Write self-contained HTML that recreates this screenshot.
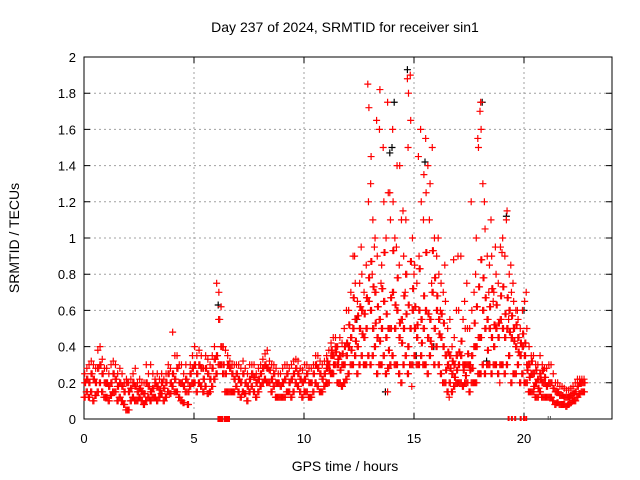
<!DOCTYPE html>
<html><head><meta charset="utf-8"><style>
body{margin:0;background:#fff;}
svg{display:block;font-family:"Liberation Sans",sans-serif;}
</style></head><body>
<svg id="chart" width="640" height="480">
<text x="345" y="32" text-anchor="middle" font-size="14">Day 237 of 2024, SRMTID for receiver sin1</text>
<text x="0" y="0" transform="translate(19,238) rotate(-90)" text-anchor="middle" font-size="14">SRMTID / TECUs</text>
<text x="345" y="471" text-anchor="middle" font-size="14">GPS time / hours</text>
<g id="grid"></g><g id="axes"></g><g id="marks"></g>
</svg>
<script>
const xTicks=[0,5,10,15,20];
const yTicks=[0,0.2,0.4,0.6,0.8,1,1.2,1.4,1.6,1.8,2];
const yTickLabels=["0","0.2","0.4","0.6","0.8","1","1.2","1.4","1.6","1.8","2"];
const binStep=0.1;
const mid=[.2,.22,.2,.25,.22,.2,.28,.3,.25,.2, .2,.18,.2,.25,.22,.18,.2,.18,.15,.2, .15,.17,.2,.18,.15,.17,.15,.14,.2,.18, .15,.17,.2,.18,.16,.2,.17,.2,.25,.2, .25,.22,.28,.2,.2,.18,.22,.15,.25,.28, .3,.25,.3,.28,.22,.28,.25,.22,.28,.33, .35,.55,.4,.3,.25,.3,.28,.25,.22,.25, .22,.2,.25,.2,.18,.22,.25,.23,.2,.22, .25,.28,.3,.28,.27,.22,.25,.2,.2,.18, .2,.22,.25,.2,.22,.25,.28,.25,.22,.2, .22,.25,.2,.2,.25,.3,.28,.25,.22,.25, .28,.3,.35,.35,.4,.3,.35,.3,.3,.35, .4,.45,.5,.55,.4,.5,.6,.45,.5,.65, .6,.5,.7,.45,.55,.5,.65,.45,.5,.5, .7,.5,.6,.45,.55,.5,.8,.4,.5,.6, .5,.45,.6,.55,.5,.6,.45,.55,.7,.5, .6,.55,.45,.4,.35,.3,.35,.25,.3,.35, .3,.35,.3,.3,.3,.3,.35,.4,.4,.45, .45,.6,.5,.55,.5,.45,.4,.5,.45,.55, .5,.45,.5,.6,.45,.5,.4,.45,.35,.4, .35,.3,.3,.25,.25,.2,.22,.25,.2,.2, .18,.2,.2,.17,.15,.15,.13,.13,.12,.12, .12,.13,.14,.15,.18,.2,.2,.2];
const lo=[.12,.15,.12,.15,.1,.13,.15,.2,.15,.12, .12,.1,.13,.15,.15,.1,.12,.1,.08,.05, .05,.1,.12,.1,.1,.12,.1,.08,.1,.12, .1,.12,.12,.1,.12,.14,.1,.12,.15,.14, .18,.15,.15,.12,.1,.09,.15,.08,.18,.2, .2,.15,.2,.18,.15,.18,.14,.15,.18,.22, .25,.3,.3,.25,.15,.15,.15,.15,.15,.18, .15,.12,.15,.14,.1,.15,.18,.15,.12,.15, .18,.2,.22,.2,.2,.15,.18,.12,.12,.12, .12,.12,.15,.15,.12,.15,.2,.18,.15,.12, .15,.15,.12,.12,.15,.2,.18,.15,.15,.18, .2,.2,.25,.25,.3,.2,.2,.18,.2,.22, .25,.3,.3,.35,.25,.3,.35,.3,.3,.35, .3,.35,.4,.25,.3,.3,.35,.25,.28,.3, .35,.3,.3,.25,.2,.3,.35,.25,.3,.3, .35,.3,.3,.35,.3,.3,.25,.35,.4,.3, .4,.3,.25,.2,.2,.15,.2,.15,.18,.2, .2,.2,.18,.2,.2,.15,.2,.2,.2,.25, .25,.3,.25,.3,.3,.25,.3,.3,.25,.3, .3,.25,.3,.35,.2,.25,.25,.3,.2,.25, .2,.2,.15,.15,.15,.12,.12,.15,.12,.12, .12,.12,.12,.1,.08,.09,.08,.08,.08,.07, .08,.09,.1,.1,.12,.14,.15,.15];
const hi=[.25,.28,.3,.32,.3,.28,.38,.4,.33,.28, .28,.25,.3,.32,.3,.25,.28,.25,.2,.22, .2,.22,.25,.28,.2,.22,.2,.2,.3,.25, .3,.25,.22,.25,.22,.25,.22,.25,.3,.28, .48,.35,.35,.3,.3,.25,.3,.2,.3,.35, .4,.35,.38,.35,.28,.35,.33,.3,.35,.4, .75,.7,.62,.4,.38,.35,.32,.3,.3,.3, .3,.28,.32,.28,.25,.3,.3,.3,.25,.28, .3,.33,.36,.38,.32,.3,.3,.28,.25,.25, .28,.3,.3,.28,.3,.32,.33,.32,.28,.27, .3,.3,.28,.28,.3,.35,.35,.32,.3,.32, .35,.38,.42,.45,.45,.4,.45,.42,.5,.6, .6,.7,.9,.75,.65,.75,.8,.7,.85,1.2, 1.3,1.1,1.0,.9,1.6,.85,1.2,1.0,1.25,1.1, 1.6,1.0,1.4,.85,1.1,.9,1.1,1.5,1.9,1.0, .85,.75,.9,1.2,1.1,1.55,1.4,1.3,1.5,1.0, .9,.8,.75,.7,.65,.5,.55,.4,.45,.6, .6,.9,.55,.5,.5,.5,.6,.7,1.0,1.5, 1.75,1.3,1.05,.9,.85,.9,.7,.8,.75,.95, 1.0,.9,1.15,.8,.7,.65,.6,.55,.5,.6, .65,.5,.4,.35,.35,.3,.3,.35,.3,.28, .28,.3,.3,.25,.2,.2,.18,.18,.17,.16, .16,.17,.18,.2,.22,.22,.22,.22];
const altStart=11;
const alt=[.32,.27,.38,.3,.37,.33,.27,.36,.4,.42, .52,.38,.67,.43,.57,.62,.47,.58,.67,.78, .87,.73,.53,.62,.43,.72,.92,.58,.38,.67, .93,.63,.78,.53,.42,.68,.58,.63,.87,.72, .62,.52,.83,.42,.68,.92,.58,.43,.93,.78, .68,.47,.58,.53,.27,.37,.28,.32,.23,.27, .37,.43,.27,.24,.36,.27,.28,.53,.62,.73, .88,.78,.67,.38,.62,.72,.52,.63,.53,.68, .73,.58,.67,.48,.57,.43,.52,.37,.42,.47, .42,.27,.23,.32,.18,.27,.17,.22,.27,.23];
const extraT=[12.9,12.95,13.05,13.3,13.45,13.6,13.8,13.9,14.05,14.35,14.5,14.7,14.75,14.85,15.2,15.3,15.45,15.55,15.7,16.1,16.4,17.0,17.4,17.6,17.9,18.0,18.05,18.2,18.5,18.7,19.0,19.2,19.4,19.5,12.3,12.6,13.2,14.2,15.0,16.8,17.3,18.4,19.7,20.1,13.8,14.9,16.6,18.9,13.1,13.5,14.6,15.8,16.2,17.8,18.6,19.3];
const extraV=[1.85,1.72,1.45,1.65,1.82,1.5,1.75,1.25,1.2,1.4,1.15,1.88,1.8,1.65,1.45,1.6,1.35,1.25,1.1,1.0,0.85,0.9,0.75,1.2,1.55,1.7,1.6,1.2,1.1,0.95,0.92,1.1,0.85,0.75,0.9,0.95,0.95,0.95,0.8,0.88,0.65,0.7,0.6,0.7,0.15,0.18,0.12,0.2,0.8,0.75,0.7,0.75,0.6,0.8,0.65,0.55];
const blackT=[14.7,14.1,15.5,14.0,19.2,13.9,18.1,6.1,15.1,13.7,18.3,15.9,12.4,20.0];
const blackV=[1.93,1.75,1.42,1.5,1.12,1.47,1.75,0.63,0.35,0.15,0.32,0.4,0.55,0.6];
const flagT=[6.2,6.5];
const tickFlagT=[19.3,19.45,19.6,19.85,20.0,20.1];
const blackFlagT=[21.1,21.2];

const X0=84,X1=612,Y0=419,Y1=57,xmax=24,ymax=2;
const xs=v=>X0+v*(X1-X0)/xmax;
const ys=v=>Y0-v*(Y0-Y1)/ymax;
const NS="http://www.w3.org/2000/svg";
function mk(tag,attrs,parent){const e=document.createElementNS(NS,tag);for(const k in attrs)e.setAttribute(k,attrs[k]);parent.appendChild(e);return e;}
const grid=document.getElementById('grid'),axes=document.getElementById('axes'),marks=document.getElementById('marks');
yTicks.forEach((t,i)=>{
  const y=ys(t);
  if(t>0&&t<ymax){const g=mk('line',{x1:X0,x2:X1,y1:y,y2:y,stroke:'#a0a0a0','stroke-dasharray':'2,3','stroke-width':1},grid);
  
  }
  const tk=mk('path',{d:`M${X0},${y}h6M${X1},${y}h-6`,stroke:'#000'},axes);
  
  
  const tx=mk('text',{x:X0-8,y:y+5,'text-anchor':'end','font-size':13},axes);tx.textContent=yTickLabels[i];
  
  
});
xTicks.forEach(t=>{
  const x=xs(t);
  if(t>0){const g=mk('line',{x1:x,x2:x,y1:Y0,y2:Y1,stroke:'#a0a0a0','stroke-dasharray':'2,3'},grid);
  
  }
  const tk=mk('path',{d:`M${x},${Y0}v-6M${x},${Y1}v6`,stroke:'#000'},axes);
  
  
  const tx=mk('text',{x:x,y:Y0+24,'text-anchor':'middle','font-size':13},axes);tx.textContent=String(t);
  
  
});
const fr=mk('rect',{x:X0,y:Y1,width:X1-X0,height:Y0-Y1,fill:'none',stroke:'#000'},axes);


function plus(t,v,col,name){
  const x=xs(t),y=ys(v);
  const p=mk('path',{d:`M${x-3.5},${y}h7M${x},${y-3.5}v7`,stroke:col,'stroke-width':1.2},marks);
  
  
}
blackT.forEach((t,i)=>plus(t,blackV[i],'#000','black-point'));
mid.forEach((v,i)=>{const t=i*binStep;
  plus(t,lo[i],'#f00','point-low');plus(t+0.05,lo[i],'#f00','point-low');
  plus(t+0.02,v,'#f00','point-mid');plus(t+0.07,v,'#f00','point-mid');
  plus(t+0.03,hi[i],'#f00','point-high');});
alt.forEach((v,i)=>{const t=altStart+i*binStep;plus(t+0.04,v,'#f00','point-alt');plus(t+0.08,v,'#f00','point-alt');});
extraT.forEach((t,i)=>plus(t,extraV[i],'#f00','point-extra'));
flagT.forEach(t=>{const r=mk('rect',{x:xs(t)-3,y:Y0-3,width:6,height:6,fill:'#f00'},marks);
  
  });
tickFlagT.forEach(t=>{const r=mk('rect',{x:xs(t)-1,y:Y0-3,width:2,height:5,fill:'#f00'},marks);
  
  });
blackFlagT.forEach(t=>{const r=mk('rect',{x:xs(t)-0.5,y:Y0-3,width:1,height:4,fill:'#555'},marks);
  
  });
</script>
</body></html>
